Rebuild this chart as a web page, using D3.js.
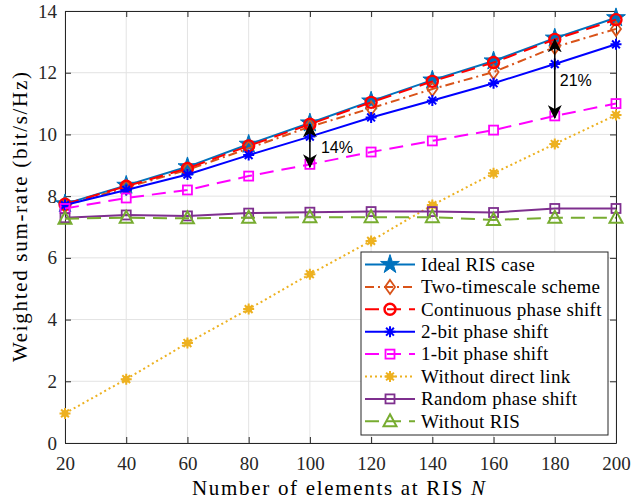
<!DOCTYPE html>
<html><head><meta charset="utf-8">
<script src="https://cdn.jsdelivr.net/npm/d3@7"></script>
<style>body{margin:0;background:#fff}svg{display:block}</style>
</head><body>
<svg id="c" width="633" height="502"></svg>
<script>
const N = [20,40,60,80,100,120,140,160,180,200];
const ideal      = [7.75,8.35,8.95,9.68,10.37,11.08,11.76,12.38,13.12,13.78];
const twoTime    = [7.70,8.28,8.85,9.55,10.25,10.85,11.47,12.02,12.83,13.42];
const continuous = [7.74,8.32,8.90,9.63,10.33,11.04,11.72,12.33,13.08,13.72];
const bit2       = [7.71,8.20,8.70,9.33,9.93,10.55,11.10,11.66,12.28,12.92];
const bit1       = [7.60,7.94,8.20,8.65,9.03,9.43,9.79,10.14,10.60,11.00];
const noDirect   = [0.96,2.07,3.24,4.34,5.47,6.55,7.71,8.74,9.69,10.63];
const randomPS   = [7.30,7.39,7.36,7.45,7.48,7.50,7.50,7.47,7.60,7.60];
const noRIS      = [7.27,7.30,7.28,7.30,7.32,7.32,7.32,7.23,7.30,7.30];
const xTicks = [20,40,60,80,100,120,140,160,180,200];
const yTicks = [0,2,4,6,8,10,12,14];
const seriesNames = ["Ideal RIS case","Two-timescale scheme","Continuous phase shift","2-bit phase shift","1-bit phase shift","Without direct link","Random phase shift","Without RIS"];

const series = [
 {name:seriesNames[0], v:ideal, color:"#0072BD", dash:null, marker:"star"},
 {name:seriesNames[1], v:twoTime, color:"#D95319", dash:"9,4,2,4", marker:"diamond"},
 {name:seriesNames[2], v:continuous, color:"#FF0000", dash:"14,8", marker:"circle"},
 {name:seriesNames[3], v:bit2, color:"#0000FF", dash:null, marker:"asterisk"},
 {name:seriesNames[4], v:bit1, color:"#FF00FF", dash:"14,8", marker:"square"},
 {name:seriesNames[5], v:noDirect, color:"#EDB120", dash:"2,3", marker:"asteriskFill"},
 {name:seriesNames[6], v:randomPS, color:"#7E2F8E", dash:null, marker:"square"},
 {name:seriesNames[7], v:noRIS, color:"#77AC30", dash:"14,8", marker:"triangle"}
];

const svg = d3.select("#c");
const L=65,R=616,T=11,B=443;
const x = d3.scaleLinear().domain([20,200]).range([L,R]);
const y = d3.scaleLinear().domain([0,14]).range([B,T]);
const serif = "'Liberation Serif','Times New Roman',serif";

// grid
const g = svg.append("g");
g.selectAll(".gx").data(xTicks).enter().append("line")
 .attr("x1",d=>x(d)).attr("x2",d=>x(d)).attr("y1",T).attr("y2",B)
 .attr("stroke","#e3e3e3").attr("stroke-width",1);
g.selectAll(".gy").data(yTicks).enter().append("line")
 .attr("y1",d=>y(d)).attr("y2",d=>y(d)).attr("x1",L).attr("x2",R)
 .attr("stroke","#e3e3e3").attr("stroke-width",1);

// axes
const ax = svg.append("g").attr("transform",`translate(0,${B})`)
 .call(d3.axisBottom(x).tickValues(xTicks).tickSizeInner(-6).tickSizeOuter(0).tickPadding(14));
const axT = svg.append("g").attr("transform",`translate(0,${T})`)
 .call(d3.axisTop(x).tickValues(xTicks).tickSizeInner(-6).tickSizeOuter(0).tickFormat(""));
const ay = svg.append("g").attr("transform",`translate(${L},0)`)
 .call(d3.axisLeft(y).tickValues(yTicks).tickSizeInner(-6).tickSizeOuter(0).tickPadding(8));
const ayR = svg.append("g").attr("transform",`translate(${R},0)`)
 .call(d3.axisRight(y).tickValues(yTicks).tickSizeInner(-6).tickSizeOuter(0).tickFormat(""));
[ax,axT,ay,ayR].forEach(a=>{
  a.selectAll("path,line").attr("stroke","#262626").attr("stroke-width",1);
  a.selectAll("text").attr("font-family",serif).attr("font-size",19).attr("fill","#262626");
});

// marker drawing
function drawMarker(sel, type, color){
  if(type==="star"){
    sel.append("path").attr("d",d3.symbol(d3.symbolStar,110)()).attr("fill",color).attr("stroke",color).attr("stroke-width",1);
  } else if(type==="circle"){
    sel.append("circle").attr("r",5.5).attr("fill","none").attr("stroke",color).attr("stroke-width",2.4);
  } else if(type==="diamond"){
    sel.append("path").attr("d","M0,-7L5,0L0,7L-5,0Z").attr("fill","none").attr("stroke",color).attr("stroke-width",1.8);
  } else if(type==="square"){
    sel.append("rect").attr("x",-4.5).attr("y",-4.5).attr("width",9).attr("height",9).attr("fill","none").attr("stroke",color).attr("stroke-width",1.8);
  } else if(type==="triangle"){
    sel.append("path").attr("d","M0,-7L6.5,5L-6.5,5Z").attr("fill","none").attr("stroke",color).attr("stroke-width",2);
  } else if(type==="asterisk"||type==="asteriskFill"){
    const r=5.5,d=3.9;
    sel.append("path").attr("d",`M${-r},0L${r},0M0,${-r}L0,${r}M${-d},${-d}L${d},${d}M${-d},${d}L${d},${-d}`)
      .attr("stroke",color).attr("stroke-width",2).attr("fill","none");
    if(type==="asteriskFill") sel.append("circle").attr("r",3.5).attr("fill",color);
  }
}

const line = d3.line().x((d,i)=>x(N[i])).y(d=>y(d));
series.forEach(s=>{
  svg.append("path").datum(s.v).attr("d",line).attr("fill","none")
   .attr("stroke",s.color).attr("stroke-width",2)
   .attr("stroke-dasharray",s.dash);
  s.v.forEach((v,i)=>{
    const m = svg.append("g").attr("transform",`translate(${x(N[i])},${y(v)})`);
    drawMarker(m,s.marker,s.color);
  });
});

// annotations
const defs = svg.append("defs");
defs.append("marker").attr("id","ah").attr("viewBox","0 0 14 14").attr("refX",13).attr("refY",7)
 .attr("markerWidth",14).attr("markerHeight",14).attr("markerUnits","userSpaceOnUse").attr("orient","auto-start-reverse")
 .append("path").attr("d","M0,0L14,7L0,14L4,7Z").attr("fill","#000");
function arrow(n, vTop, vBot, label, dx){
  svg.append("line").attr("x1",x(n)).attr("x2",x(n)).attr("y1",y(vTop)).attr("y2",y(vBot))
   .attr("stroke","#000").attr("stroke-width",1.5)
   .attr("marker-start","url(#ah)").attr("marker-end","url(#ah)");
  svg.append("text").attr("x",x(n)+dx).attr("y",(y(vTop)+y(vBot))/2+7)
   .attr("font-family","'Liberation Sans',Arial,sans-serif").attr("font-size",16).attr("fill","#000").text(label);
}
arrow(100, continuous[4], 8.94, "14%", 11);
arrow(180, continuous[8], 10.53, "21%", 5);

// legend
const lg = svg.append("g");
const lx=361, ly=252, lw=247, lh=183;
lg.append("rect").attr("x",lx).attr("y",ly).attr("width",lw).attr("height",lh).attr("fill","#fff").attr("stroke","#262626").attr("stroke-width",1);
series.forEach((s,i)=>{
  const yy = ly+12.5+i*22.4;
  lg.append("line").attr("x1",lx+4).attr("x2",lx+54).attr("y1",yy).attr("y2",yy)
    .attr("stroke",s.color).attr("stroke-width",2).attr("stroke-dasharray",s.dash);
  const m = lg.append("g").attr("transform",`translate(${lx+29},${yy})`);
  drawMarker(m,s.marker,s.color);
  lg.append("text").attr("x",lx+60).attr("y",yy+6.3).attr("font-family",serif).attr("font-size",19)
    .attr("letter-spacing",0.3).attr("fill","#000").text(s.name);
});

// axis labels
svg.append("text").attr("x",192).attr("y",495)
 .attr("font-family",serif).attr("font-size",21).attr("fill","#000")
 .attr("textLength",293).attr("lengthAdjust","spacing")
 .html("Number of elements at RIS <tspan font-style='italic'>N</tspan>");
svg.append("text").attr("transform",`translate(27,217) rotate(-90)`).attr("text-anchor","middle")
 .attr("font-family",serif).attr("font-size",21).attr("fill","#000")
 .attr("textLength",290).attr("lengthAdjust","spacing")
 .text("Weighted sum-rate (bit/s/Hz)");
</script>
</body></html>
